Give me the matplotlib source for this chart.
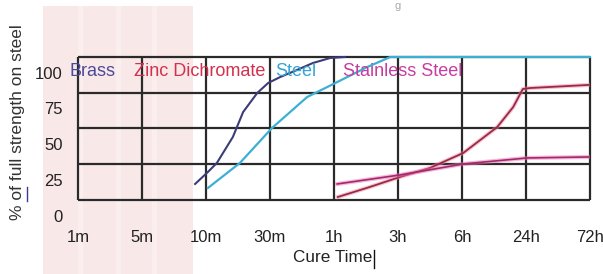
import numpy as np
import matplotlib
matplotlib.use("Agg")
import matplotlib.pyplot as plt
from matplotlib.patches import Rectangle
from matplotlib.lines import Line2D

plt.rcParams['font.family'] = ['Liberation Sans', 'DejaVu Sans']

# tick labels
x_labels = ['1m', '5m', '10m', '30m', '1h', '3h', '6h', '24h', '72h']
y_labels = [0, 25, 50, 75, 100]

# curves, x in tick-index units, y in % of full strength
brass_x = [1.83, 2.03, 2.17, 2.42, 2.58, 2.80, 2.97, 3.16, 3.42, 3.67, 3.94, 4.17]
brass_y = [22.2, 30.6, 36.9, 55.1, 72.5, 85.8, 92.8, 97.0, 101.9, 106.8, 110.3, 111]

steel_x = [2.03, 2.53, 3.03, 3.58, 4.02, 4.52, 4.88, 8.0]
steel_y = [19.4, 36.9, 61.3, 83.0, 92.8, 104.0, 111, 111]

zinc_x = [4.06, 4.56, 5.03, 5.5, 6.02, 6.55, 6.80, 6.95, 7.06, 7.95, 8.0]
zinc_y = [13.1, 20.1, 27.1, 33.4, 43.9, 62.0, 76.0, 88.6, 89.3, 91.4, 91.5]

stainless_x = [4.05, 5.03, 6.02, 7.02, 8.0]
stainless_y = [22.2, 28.5, 36.2, 40.4, 41.1]

W, H = 603, 274
fig = plt.figure(figsize=(W / 100, H / 100), dpi=100)

# pink striped panel on the left (behind everything)
fig.patches.append(Rectangle((43 / W, 0), 150 / W, 1 - 6 / H, transform=fig.transFigure,
                             facecolor='#f9e8e8', edgecolor='none', zorder=-2))
for sx in [78, 116, 152]:
    fig.patches.append(Rectangle((sx / W, 0), 5 / W, 1 - 6 / H, transform=fig.transFigure,
                                 facecolor='#fbeeee', edgecolor='none', zorder=-1))

top_px, bot_px = 57, 224.3
ax = fig.add_axes([78 / W, 1 - bot_px / H, 512 / W, (bot_px - top_px) / H])
ax.set_facecolor('none')
ax.set_xlim(0, 8)
ax.set_ylim(-6, 111)
for s in ax.spines.values():
    s.set_visible(False)

# grid box
grid_y = [11, 36, 61, 86, 111]
ax.hlines(grid_y, 0, 8, color='#2a2a2a', lw=1.6, clip_on=False, zorder=2)
ax.vlines(range(9), 11, 111, color='#2a2a2a', lw=1.6, clip_on=False, zorder=2)

ax.set_xticks(range(9))
ax.set_xticklabels(x_labels, fontsize=12, color='#222222')
ax.set_yticks(y_labels)
ax.set_yticklabels([str(v) for v in y_labels], fontsize=12, color='#222222')
ax.tick_params(axis='x', length=0, pad=4)
ax.tick_params(axis='y', length=0, pad=11)

# curves
ax.plot(brass_x, brass_y, color='#3c3c7a', lw=1.5, zorder=3, clip_on=False)
ax.plot(steel_x, steel_y, color='#3bb0d4', lw=1.6, zorder=3, clip_on=False)
ax.plot(zinc_x, zinc_y, color='#f08aa8', lw=3, alpha=0.5, zorder=3)
ax.plot(zinc_x, zinc_y, color='#9a2a44', lw=1.3, zorder=3)
ax.plot(stainless_x, stainless_y, color='#f070b8', lw=3, alpha=0.5, zorder=3)
ax.plot(stainless_x, stainless_y, color='#a02a6a', lw=1.2, zorder=3)

# series labels
ax.text(-0.14, 100.8, 'Brass', color='#4a4a9a', fontsize=13, va='center', zorder=4)
ax.text(0.875, 100.8, 'Zinc Dichromate', color='#d2304c', fontsize=13, va='center', zorder=4)
ax.text(3.08, 100.8, 'Steel', color='#34a4d4', fontsize=13, va='center', zorder=4)
ax.text(4.14, 100.8, 'Stainless Steel', color='#c83ca0', fontsize=13, va='center', zorder=4)

# axis titles
fig.text(18 / W, 1 - 122 / H, '% of full strength on steel', rotation=90,
         ha='center', va='center', fontsize=12.5, color='#333333')
fig.add_artist(Line2D([27 / W, 27 / W], [1 - 201 / H, 1 - 187 / H],
                      transform=fig.transFigure, color='#3c3c8a', lw=1))
fig.text(333 / W, 1 - 258 / H, 'Cure Time', ha='center', va='center',
         fontsize=12.3, color='#222222')
fig.add_artist(Line2D([374 / W, 374 / W], [1 - 268 / H, 1 - 250 / H],
                      transform=fig.transFigure, color='#111111', lw=1))

# remnant of the title at the top edge
fig.text(398 / W, 1 - 1 / H, 'g', ha='center', va='top', fontsize=8, color='#aaaaaa')

fig.savefig('out.png', dpi=100)
